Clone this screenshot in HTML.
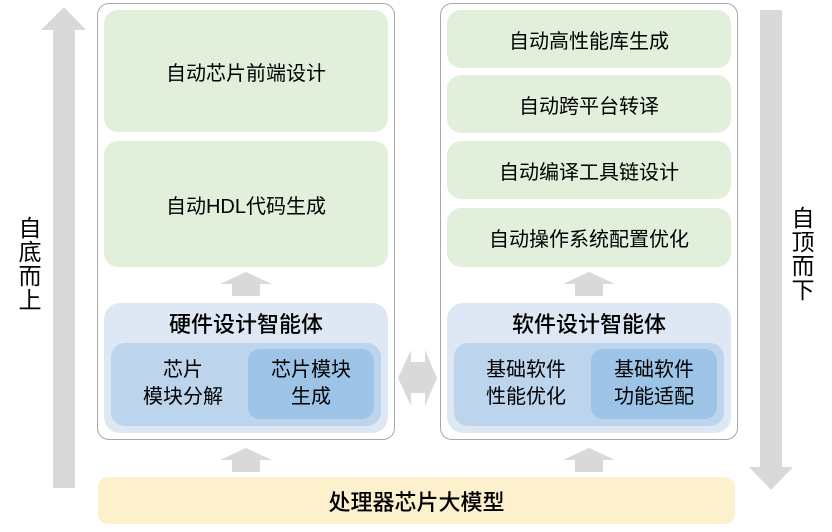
<!DOCTYPE html>
<html><head><meta charset="utf-8"><style>
body{margin:0;width:832px;height:532px;background:#fff;position:relative;font-family:"Liberation Sans","Noto Sans CJK SC",sans-serif;color:#000;overflow:hidden}
.a{position:absolute;box-sizing:border-box;display:flex;align-items:center;justify-content:center;text-align:center}
.outer{border:1.5px solid #a8a8a8;border-radius:12px;background:#fff}
.g{background:#e2efda;border-radius:14px;font-size:20px}
.hb{background:#dde8f4;border-radius:16px}
.in{background:#bcd4ec;border-radius:14px}
.dk{background:#9dc3e6;border-radius:12px}
.t{font-size:20px;line-height:27px}
.v{font-size:23px;line-height:24px;width:26px;flex-direction:column}
</style></head><body>
<svg width="832" height="532" style="position:absolute;left:0;top:0">
<polygon points="64,7 86,30 75,30 75,488 53,488 53,30 41,30" fill="#d9d9d9"/>
<polygon points="771,490 793,467 782,467 782,10 760,10 760,467 749,467" fill="#d9d9d9"/>
<polygon points="398,378 411,350 411,362 425,362 425,350 437,378 425,406 425,393 411,393 411,406" fill="#d9d9d9"/>
</svg>
<div class="a v" style="left:17px;top:214px;height:100px">自<br>底<br>而<br>上</div>
<div class="a v" style="left:790px;top:204px;height:100px">自<br>顶<br>而<br>下</div>
<div class="a outer" style="left:97px;top:3px;width:298px;height:437px"></div>
<div class="a outer" style="left:440px;top:3px;width:298px;height:437px"></div>
<div class="a g" style="left:104px;top:10px;width:284px;height:122px">自动芯片前端设计</div>
<div class="a g" style="left:104px;top:141px;width:284px;height:126px">自动HDL代码生成</div>
<div class="a g" style="left:447px;top:10px;width:284px;height:58px">自动高性能库生成</div>
<div class="a g" style="left:447px;top:75px;width:284px;height:58px">自动跨平台转译</div>
<div class="a g" style="left:447px;top:141px;width:284px;height:58px">自动编译工具链设计</div>
<div class="a g" style="left:447px;top:208px;width:284px;height:59px">自动操作系统配置优化</div>
<svg width="832" height="532" style="position:absolute;left:0;top:0">
<polygon points="246,272 272,284 260,284 260,296 232,296 232,284 220,284" fill="#d9d9d9"/>
<polygon points="589,272 615,284 603,284 603,296 575,296 575,284 563,284" fill="#d9d9d9"/>
<polygon points="246,448 272,460 260,460 260,472 232,472 232,460 220,460" fill="#d9d9d9"/>
<polygon points="589,448 615,460 603,460 603,472 575,472 575,460 563,460" fill="#d9d9d9"/>
</svg>
<div class="a hb" style="left:104px;top:303px;width:284px;height:130px"></div>
<div class="a" style="left:104px;top:308px;width:284px;height:30px;font-size:22px;font-weight:500">硬件设计智能体</div>
<div class="a in" style="left:111px;top:343px;width:270px;height:83px"></div>
<div class="a t" style="left:118px;top:349px;width:130px;height:70px">芯片<br>模块分解</div>
<div class="a dk t" style="left:248px;top:349px;width:126px;height:70px">芯片模块<br>生成</div>
<div class="a hb" style="left:447px;top:303px;width:284px;height:130px"></div>
<div class="a" style="left:447px;top:308px;width:284px;height:30px;font-size:22px;font-weight:500">软件设计智能体</div>
<div class="a in" style="left:454px;top:343px;width:270px;height:83px"></div>
<div class="a t" style="left:461px;top:349px;width:130px;height:70px">基础软件<br>性能优化</div>
<div class="a dk t" style="left:591px;top:349px;width:126px;height:70px">基础软件<br>功能适配</div>
<div class="a" style="left:98px;top:477px;width:637px;height:47px;background:#fdf0cc;border-radius:10px;font-size:22px;font-weight:500">处理器芯片大模型</div>
</body></html>
